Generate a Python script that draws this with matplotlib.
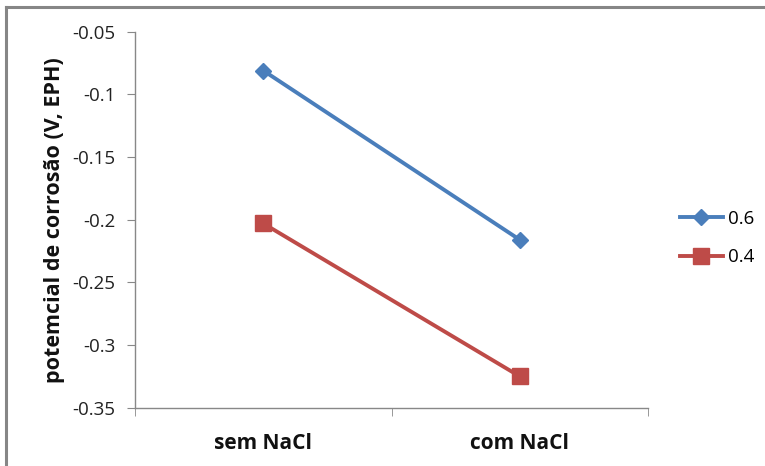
import matplotlib
matplotlib.use("Agg")
import matplotlib.pyplot as plt
from matplotlib.lines import Line2D

categories = ["sem NaCl", "com NaCl"]
series_labels = ["0.6", "0.4"]
values_06 = [-0.081, -0.216]
values_04 = [-0.203, -0.325]
yticks = [-0.35, -0.3, -0.25, -0.2, -0.15, -0.1, -0.05]
ytick_labels = ["-0.35", "-0.3", "-0.25", "-0.2", "-0.15", "-0.1", "-0.05"]

plt.rcParams['font.family'] = ['Open Sans', 'DejaVu Sans']

W, H = 765, 466
fig = plt.figure(figsize=(W / 100, H / 100), dpi=100)

# outer chart frame (top and left edges)
frame_col = "#868686"
fig.add_artist(Line2D([6 / W, 1.0], [1 - 7 / H, 1 - 7 / H], color=frame_col, lw=2.2, transform=fig.transFigure))
fig.add_artist(Line2D([6 / W, 6 / W], [0.0, 1 - 7 / H], color=frame_col, lw=2.2, transform=fig.transFigure))

left, right = 135, 648
top, bottom = 31.7, 407.7
ax = fig.add_axes([left / W, 1 - bottom / H, (right - left) / W, (bottom - top) / H])

x = [0.5, 1.5]
blue = "#4a7ebb"
red = "#be4b48"
ax.plot(x, values_06, color=blue, lw=2.8, marker="D", ms=8, label=series_labels[0], zorder=3)
ax.plot(x, values_04, color=red, lw=2.8, marker="s", ms=11, label=series_labels[1], zorder=3)

ax.set_xlim(0, 2)
ax.set_ylim(-0.35, -0.05)
ax.set_yticks(yticks)
ax.set_yticklabels(ytick_labels, fontsize=13.5, color="#222222")
ax.set_xticks(x)
ax.set_xticklabels(categories, fontsize=15, fontweight="bold", color="#111111")
ax.set_xticks([0, 1, 2], minor=True)
ax.tick_params(axis="x", which="major", length=0, pad=18)
ax.tick_params(axis="x", which="minor", length=6, direction="out", color="#888888")
ax.tick_params(axis="y", length=6, direction="out", color="#888888", pad=8)

for side in ["top", "right"]:
    ax.spines[side].set_visible(False)
for side in ["left", "bottom"]:
    ax.spines[side].set_color("#888888")
    ax.spines[side].set_linewidth(1.0)

ax.set_ylabel("potemcial de corrosão (V, EPH)", fontsize=15.5, fontweight="bold", color="#111111", labelpad=5)

leg = ax.legend(loc="center left", bbox_to_anchor=(1.029, 0.451), frameon=False, fontsize=13.5,
                handlelength=2.3, handletextpad=0.27, labelspacing=1.1, borderpad=0.4)

fig.savefig("out.png", dpi=100, facecolor="white")
